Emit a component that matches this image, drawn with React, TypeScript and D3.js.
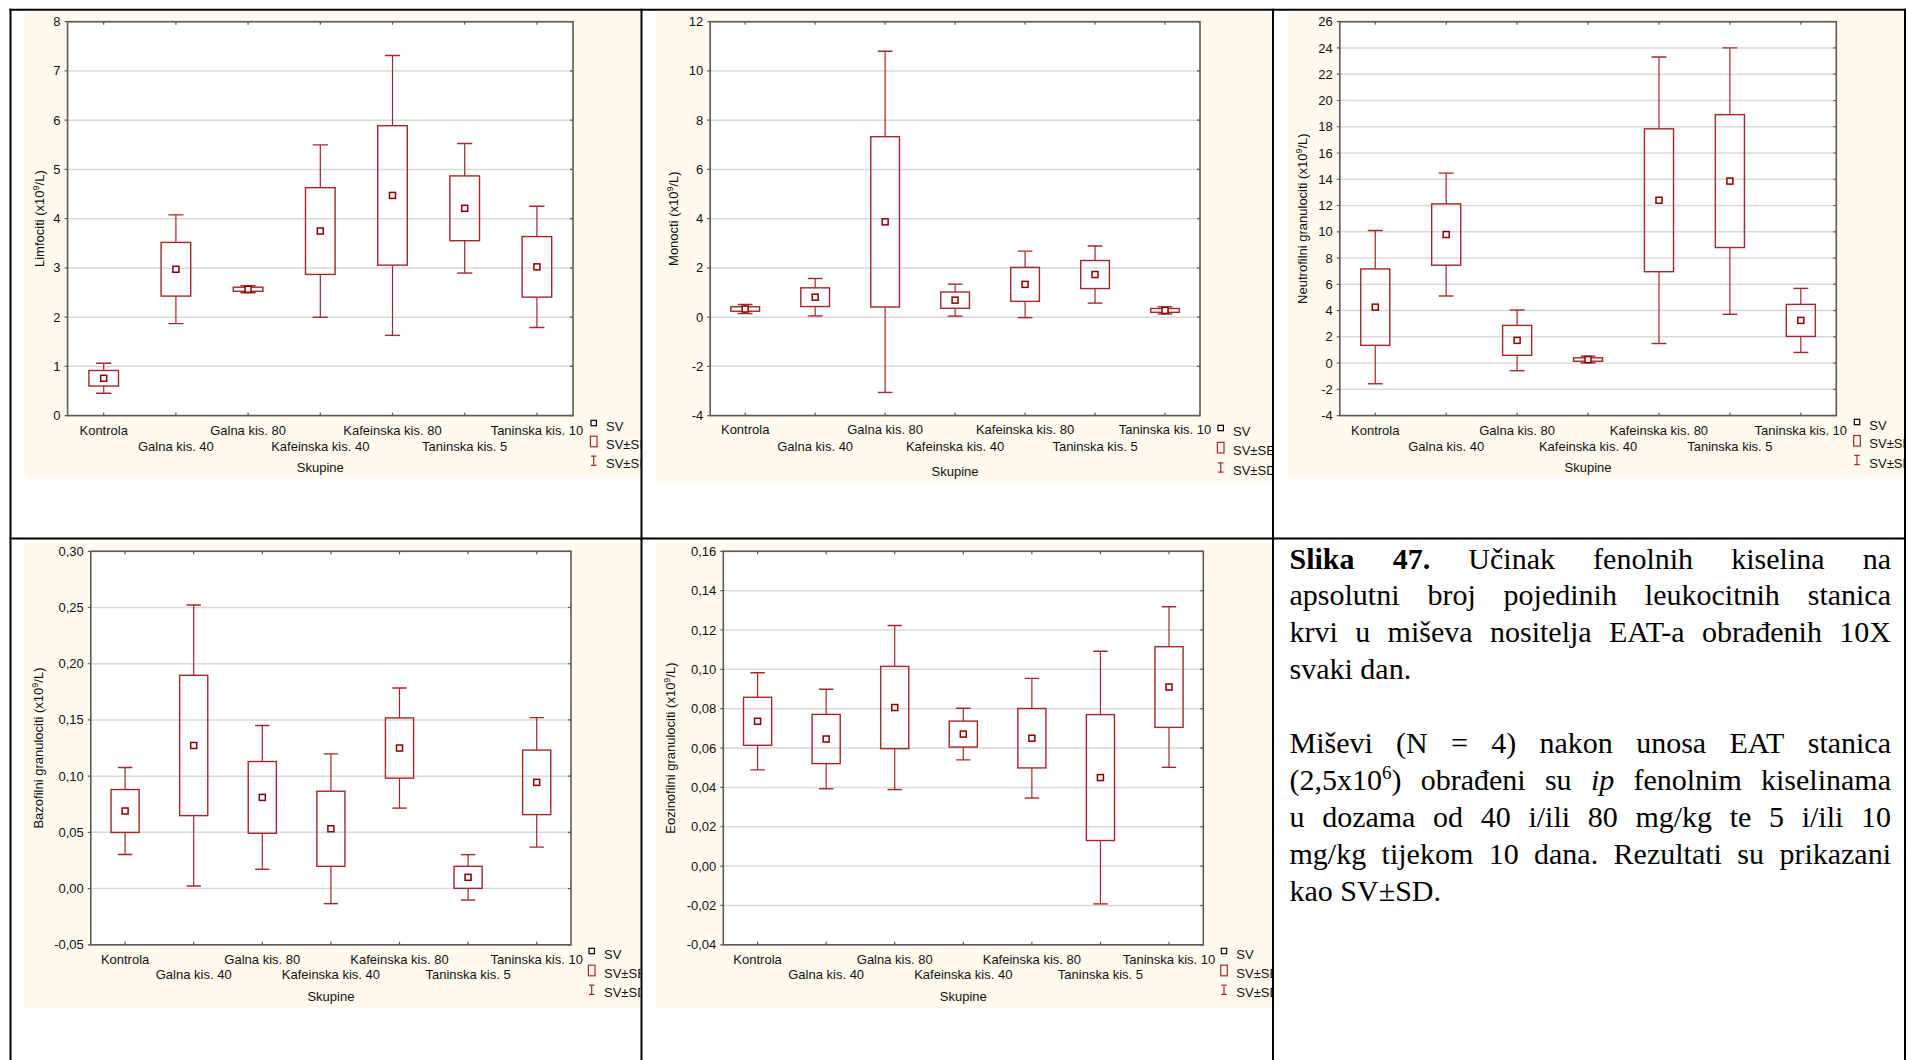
import React from "react";
import * as d3 from "d3";

// ---------- DATA ----------
const groups = [
  "Kontrola",
  "Galna kis. 40",
  "Galna kis. 80",
  "Kafeinska kis. 40",
  "Kafeinska kis. 80",
  "Taninska kis. 5",
  "Taninska kis. 10",
];

const limfMean = [0.758, 2.972, 2.566, 3.748, 4.472, 4.21, 3.021];
const limfSE = [0.158, 0.545, 0.042, 0.881, 1.416, 0.658, 0.615];
const limfSD = [0.304, 1.105, 0.07, 1.75, 2.843, 1.315, 1.231];
const limfTicks = [0, 1, 2, 3, 4, 5, 6, 7, 8];

const monoMean = [0.33, 0.81, 3.87, 0.69, 1.33, 1.73, 0.273];
const monoSE = [0.09, 0.38, 3.46, 0.33, 0.69, 0.57, 0.077];
const monoSD = [0.18, 0.76, 6.93, 0.65, 1.35, 1.16, 0.147];
const monoTicks = [-4, -2, 0, 2, 4, 6, 8, 10, 12];

const neutMean = [4.26, 9.79, 1.73, 0.27, 12.4, 13.86, 3.25];
const neutSE = [2.91, 2.335, 1.14, 0.13, 5.44, 5.06, 1.22];
const neutSD = [5.835, 4.68, 2.31, 0.26, 10.91, 10.145, 2.44];
const neutTicks = [-4, -2, 0, 2, 4, 6, 8, 10, 12, 14, 16, 18, 20, 22, 24, 26];

const bazoMean = [0.069, 0.1273, 0.0811, 0.0532, 0.125, 0.01, 0.0945];
const bazoSE = [0.0191, 0.0624, 0.0319, 0.0334, 0.0268, 0.0098, 0.0287];
const bazoSD = [0.0387, 0.125, 0.0639, 0.0666, 0.0534, 0.0202, 0.0576];
const bazoTicks = [-0.05, 0, 0.05, 0.1, 0.15, 0.2, 0.25, 0.3];

const eozMean = [0.0736, 0.0646, 0.0806, 0.0671, 0.065, 0.045, 0.091];
const eozSE = [0.0122, 0.0125, 0.0209, 0.0066, 0.0151, 0.032, 0.0205];
const eozSD = [0.0247, 0.0253, 0.0417, 0.0131, 0.0304, 0.0642, 0.0408];
const eozTicks = [-0.04, -0.02, 0, 0.02, 0.04, 0.06, 0.08, 0.1, 0.12, 0.14, 0.16];

const xTitle = "Skupine";
const legendLabels = ["SV", "SV±SE", "SV±SD"];

const captionLines = [
  "*Slika* *47.* Učinak fenolnih kiselina na",
  "apsolutni broj pojedinih leukocitnih stanica",
  "krvi u miševa nositelja EAT-a obrađenih 10X",
  "svaki dan.",
  "",
  "Miševi (N = 4) nakon unosa EAT stanica",
  "(2,5x10^6) obrađeni su _ip_ fenolnim kiselinama",
  "u dozama od 40 i/ili 80 mg/kg te 5 i/ili 10",
  "mg/kg tijekom 10 dana. Rezultati su prikazani",
  "kao SV±SD.",
];

// ---------- STYLE / LAYOUT ----------
const SANS = "'Liberation Sans', Arial, sans-serif";
const SERIF = "'Liberation Serif', 'Times New Roman', serif";
const CREAM = "#FFF9EE";
const RED = "#A3282A";
const DARKRED = "#8B0000";
const AXIS = "#5a5a5a";
const GRID = "#d9d9d9";
const FS = 13;

type Layout = {
  cell: [number, number, number, number];
  bg: [number, number, number, number];
  plot: [number, number, number, number];
  row1: number;
  row2: number;
  title: number;
  yTitleX: number;
  legY: [number, number, number];
};

const charts = [
  {
    yLabel: "Limfociti (x10",
    mean: limfMean, se: limfSE, sd: limfSD, ticks: limfTicks, dec: 0,
    lay: { cell: [11.5, 10.7, 640.5, 1060], bg: [24, 13, 642, 478.6], plot: [67.6, 21.7, 573, 415.6], row1: 430.5, row2: 446, title: 467.6, yTitleX: 39.4, legY: [423, 441.5, 460.7] } as Layout,
  },
  {
    yLabel: "Monocti (x10",
    mean: monoMean, se: monoSE, sd: monoSD, ticks: monoTicks, dec: 0,
    lay: { cell: [642.5, 10.7, 1272, 1060], bg: [655.5, 13, 1274, 483.8], plot: [710.2, 21.7, 1200, 415.6], row1: 429.5, row2: 446.6, title: 471, yTitleX: 673.5, legY: [428, 447.7, 467.5] } as Layout,
  },
  {
    yLabel: "Neutrofilni granulociti (x10",
    mean: neutMean, se: neutSE, sd: neutSD, ticks: neutTicks, dec: 0,
    lay: { cell: [1274, 10.7, 1904, 1060], bg: [1287.4, 13, 1906, 478.6], plot: [1339.8, 21.7, 1836.3, 415.6], row1: 430.4, row2: 446, title: 467.6, yTitleX: 1302.5, legY: [422, 440.8, 460] } as Layout,
  },
  {
    yLabel: "Bazofilni granulociti (x10",
    mean: bazoMean, se: bazoSE, sd: bazoSD, ticks: bazoTicks, dec: 2,
    lay: { cell: [11.5, 539.5, 640.5, 1060], bg: [24, 541.8, 642, 1008.4], plot: [90.8, 551.3, 571, 944.8], row1: 959.4, row2: 974.6, title: 996.5, yTitleX: 38.6, legY: [951, 970.5, 989.8] } as Layout,
  },
  {
    yLabel: "Eozinofilni granulociti (x10",
    mean: eozMean, se: eozSE, sd: eozSD, ticks: eozTicks, dec: 2,
    lay: { cell: [642.5, 539.5, 1272, 1060], bg: [655.5, 541.8, 1274, 1008.4], plot: [723.3, 551.3, 1203.3, 944.8], row1: 959.4, row2: 974.6, title: 996.5, yTitleX: 670.6, legY: [951, 970.5, 989.8] } as Layout,
  },
];

function fmt(v: number, dec: number) {
  return d3.format(`.${dec}f`)(v).replace(".", ",").replace("−", "-");
}

function BoxChart({ idx, c }: { idx: number; c: (typeof charts)[number] }) {
  const L = c.lay;
  const [pl, pt, pr, pb] = L.plot;
  const x = d3.scaleBand<string>().domain(groups).range([pl, pr]).padding(0);
  const y = d3
    .scaleLinear()
    .domain([c.ticks[0], c.ticks[c.ticks.length - 1]])
    .range([pb, pt]);
  const bw = x.bandwidth();
  const boxW = bw * 0.41;
  const capW = bw * 0.21;
  const cx = (g: string) => (x(g) as number) + bw / 2;
  const clipId = `clip${idx}`;
  const [cl, ct, cr, cb] = L.cell;
  const legX = pr + 18;
  return (
    <g>
      <defs>
        <clipPath id={clipId}>
          <rect x={cl} y={ct} width={cr - cl} height={cb - ct} />
        </clipPath>
      </defs>
      <g clipPath={`url(#${clipId})`}>
        <rect x={L.bg[0]} y={L.bg[1]} width={L.bg[2] - L.bg[0]} height={L.bg[3] - L.bg[1]} fill={CREAM} />
        <rect x={pl} y={pt} width={pr - pl} height={pb - pt} fill="#fff" />
        {c.ticks.map((t) => (
          <line key={"g" + t} x1={pl} x2={pr} y1={y(t)} y2={y(t)} stroke={GRID} strokeWidth={1.5} />
        ))}
        {/* ticks */}
        {c.ticks.map((t) => (
          <g key={"t" + t}>
            <line x1={pl - 3} x2={pl} y1={y(t)} y2={y(t)} stroke={AXIS} strokeWidth={1.2} />
            <line x1={pr - 3} x2={pr} y1={y(t)} y2={y(t)} stroke={AXIS} strokeWidth={1.2} />
            <text x={pl - 7} y={y(t)} dy="0.35em" textAnchor="end" fontFamily={SANS} fontSize={FS} fill="#111">
              {fmt(t, c.dec)}
            </text>
          </g>
        ))}
        {groups.map((g, i) => (
          <g key={"x" + g}>
            <line x1={cx(g)} x2={cx(g)} y1={pt} y2={pt + 3} stroke={AXIS} strokeWidth={1.2} />
            <line x1={cx(g)} x2={cx(g)} y1={pb - 3} y2={pb} stroke={AXIS} strokeWidth={1.2} />
            <text x={cx(g)} y={i % 2 === 0 ? L.row1 : L.row2} dy="0.35em" textAnchor="middle" fontFamily={SANS} fontSize={FS} fill="#111">
              {g}
            </text>
          </g>
        ))}
        {/* boxes */}
        {groups.map((g, i) => {
          const m = c.mean[i];
          const se = c.se[i];
          const sd = c.sd[i];
          const X = cx(g);
          const bTop = y(m + se);
          const bBot = y(m - se);
          const wTop = y(m + sd);
          const wBot = y(m - sd);
          return (
            <g key={"b" + g}>
              <line x1={X} x2={X} y1={wTop} y2={bTop} stroke={RED} strokeWidth={1.2} />
              <line x1={X} x2={X} y1={bBot} y2={wBot} stroke={RED} strokeWidth={1.2} />
              <line x1={X - capW / 2} x2={X + capW / 2} y1={wTop} y2={wTop} stroke={RED} strokeWidth={1.4} />
              <line x1={X - capW / 2} x2={X + capW / 2} y1={wBot} y2={wBot} stroke={RED} strokeWidth={1.4} />
              <rect x={X - boxW / 2} y={bTop} width={boxW} height={Math.max(bBot - bTop, 0.5)} fill="none" stroke={RED} strokeWidth={1.4} />
              <rect x={X - 3} y={y(m) - 3} width={6} height={6} fill="#fff" stroke={DARKRED} strokeWidth={1.5} />
            </g>
          );
        })}
        <rect x={pl} y={pt} width={pr - pl} height={pb - pt} fill="none" stroke={AXIS} strokeWidth={1.6} />
        {/* axis titles */}
        <text x={(pl + pr) / 2} y={L.title} dy="0.35em" textAnchor="middle" fontFamily={SANS} fontSize={FS} fill="#111">
          {xTitle}
        </text>
        <text
          transform={`translate(${L.yTitleX},${(pt + pb) / 2}) rotate(-90)`}
          dy="0.35em"
          textAnchor="middle"
          fontFamily={SANS}
          fontSize={FS}
          fill="#111"
        >
          {c.yLabel}
          <tspan fontSize={9} dy={-5}>9</tspan>
          <tspan dy={5}>/L)</tspan>
        </text>
        {/* legend */}
        <rect x={legX} y={L.legY[0] - 2.7} width={5.4} height={5.4} fill="#fff" stroke="#000" strokeWidth={1.2} />
        <rect x={legX - 0.6} y={L.legY[1] - 5.3} width={6.6} height={10.6} fill="none" stroke={RED} strokeWidth={1.2} />
        <line x1={legX + 2.7} x2={legX + 2.7} y1={L.legY[2] - 4.6} y2={L.legY[2] + 4.6} stroke={RED} strokeWidth={1.2} />
        <line x1={legX} x2={legX + 5.4} y1={L.legY[2] - 4.6} y2={L.legY[2] - 4.6} stroke={RED} strokeWidth={1.2} />
        <line x1={legX} x2={legX + 5.4} y1={L.legY[2] + 4.6} y2={L.legY[2] + 4.6} stroke={RED} strokeWidth={1.2} />
        {legendLabels.map((lab, k) => (
          <text key={lab} x={legX + 15} y={L.legY[k] + 3} dy="0.35em" fontFamily={SANS} fontSize={FS} fill="#111">
            {lab}
          </text>
        ))}
      </g>
    </g>
  );
}

type Seg = { t: string; b?: boolean; i?: boolean; sup?: boolean };

function parseWord(w: string): Seg[] {
  const parts = w.split(/(\*[^*]+\*|_[^_]+_|\^\d)/).filter((p) => p.length);
  return parts.map((p) => {
    if (p.startsWith("*")) return { t: p.slice(1, -1), b: true };
    if (p.startsWith("_")) return { t: p.slice(1, -1), i: true };
    if (p.startsWith("^")) return { t: p.slice(1), sup: true };
    return { t: p };
  });
}

const CAP_FS = 30;
const SUP_FS = 19;
let ctx: CanvasRenderingContext2D | null = null;
function measure(s: Seg) {
  if (!ctx) ctx = document.createElement("canvas").getContext("2d");
  const fs = s.sup ? SUP_FS : CAP_FS;
  ctx!.font = `${s.i ? "italic " : ""}${s.b ? "bold " : ""}${fs}px 'Liberation Serif'`;
  return ctx!.measureText(s.t).width;
}

function Caption() {
  const left = 1289.5;
  const right = 1891;
  const W = right - left;
  const y0 = 568.5;
  const step = 36.9;
  return (
    <g>
      {captionLines.map((line, li) => {
        if (!line) return null;
        const words = line.split(" ").map(parseWord);
        const widths = words.map((segs) => segs.reduce((a, s) => a + measure(s), 0));
        const last = li === captionLines.length - 1 || captionLines[li + 1] === "";
        const total = widths.reduce((a, b) => a + b, 0);
        const spaceW = measure({ t: " " });
        const gap = last || words.length < 2 ? spaceW : (W - total) / (words.length - 1);
        let xx = left;
        const y = y0 + li * step;
        return (
          <g key={li}>
            {words.map((segs, wi) => {
              const px = xx;
              xx += widths[wi] + gap;
              let raised = false;
              return (
                <text key={wi} x={px} y={y} fontFamily={SERIF} fontSize={CAP_FS} fill="#000">
                  {segs.map((s, si) => {
                    let dy = 0;
                    if (s.sup && !raised) { dy = -11; raised = true; }
                    else if (!s.sup && raised) { dy = 11; raised = false; }
                    return (
                      <tspan
                        key={si}
                        dy={dy || undefined}
                        fontSize={s.sup ? SUP_FS : CAP_FS}
                        fontWeight={s.b ? "bold" : "normal"}
                        fontStyle={s.i ? "italic" : "normal"}
                      >
                        {s.t}
                      </tspan>
                    );
                  })}
                </text>
              );
            })}
          </g>
        );
      })}
    </g>
  );
}

export default function App() {
  return (
    <svg
      width={1906}
      height={1060}
      style={{ position: "absolute", left: 0, top: 0, background: "#fff" }}
    >
      <rect x={0} y={0} width={1906} height={1060} fill="#fff" />
      {charts.map((c, i) => (
        <BoxChart key={i} idx={i} c={c} />
      ))}
      <Caption />
      {/* table lines */}
      <g stroke="#000" strokeWidth={2}>
        <line x1={9.5} x2={1906} y1={9.7} y2={9.7} />
        <line x1={10.5} x2={10.5} y1={8.7} y2={1060} />
        <line x1={641.5} x2={641.5} y1={8.7} y2={1060} />
        <line x1={1273} x2={1273} y1={8.7} y2={1060} />
        <line x1={1905} x2={1905} y1={8.7} y2={1060} />
        <line x1={9.5} x2={1906} y1={538.5} y2={538.5} />
      </g>
    </svg>
  );
}
